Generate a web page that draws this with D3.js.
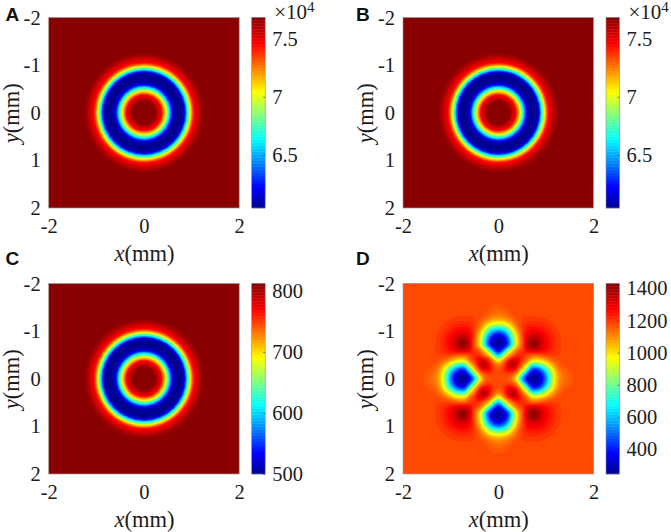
<!DOCTYPE html>
<html>
<head>
<meta charset="utf-8">
<script src="https://d3js.org/d3.v7.min.js"></script>
<style>
  html, body { margin: 0; padding: 0; background: #fff; }
  svg { display: block; }
  text { font-family: "Liberation Serif", serif; fill: #1c1c1c; }
  .domain { display: none; }
</style>
</head>
<body>
<div id="chart"></div>
<script>
// Data
const xTicks = [-2, 0, 2];
const yTicks = [-2, -1, 0, 1, 2];
const panelNames = ["A", "B", "C", "D"];

// Ring panels: field value against distance from the centre (mm)
const ringRadius = [0.22, 0.24, 0.26, 0.28, 0.30, 0.32, 0.34, 0.36, 0.38, 0.40, 0.42, 0.44, 0.46,
  0.48, 0.50, 0.52, 0.54, 0.56, 0.58, 0.60, 0.62, 0.64, 0.66, 0.68, 0.70, 0.72, 0.74, 0.76,
  0.78, 0.80, 0.82, 0.84, 0.86, 0.88, 0.90, 0.92, 0.94, 0.96, 0.98, 1.00, 1.02, 1.04, 1.06,
  1.08, 1.10, 1.12, 1.14, 1.16, 1.18, 1.20, 1.22, 1.24, 1.26, 1.28, 1.30];
const ringValuesAB = [7.685, 7.677, 7.660, 7.627, 7.586, 7.553, 7.520, 7.496, 7.463, 7.389, 7.257, 7.175, 7.085,
  6.978, 6.863, 6.731, 6.616, 6.501, 6.336, 6.237, 6.155, 6.106, 6.081, 6.060, 6.048, 6.043, 6.040, 6.040,
  6.043, 6.053, 6.073, 6.106, 6.165, 6.303, 6.468, 6.632, 6.764, 6.895, 7.027, 7.142, 7.257, 7.356, 7.438,
  7.471, 7.496, 7.520, 7.545, 7.570, 7.595, 7.619, 7.639, 7.657, 7.672, 7.680, 7.685];
const ringValuesC = [812, 810, 807, 801, 793, 787, 781, 776, 770, 756, 731, 715, 698,
  678, 656, 631, 609, 587, 556, 537, 522, 512, 508, 504, 502, 501, 500, 500,
  501, 502, 506, 512, 524, 550, 581, 612, 637, 662, 687, 709, 731, 750, 765,
  771, 776, 781, 785, 790, 795, 800, 803, 807, 810, 811, 812];

// Panel D: one quadrant, rows y = 0..1.8, columns x = 0..1.8, 0.1 mm apart
const quadrantD = [
  [1180, 1180, 1160, 1130,  870,  520,  290,  235,  245,  310,  500,  780, 1020, 1110, 1140, 1160, 1178, 1180, 1180],
  [1180, 1185, 1195, 1160, 1110,  780,  460,  275,  285,  360,  550,  820, 1030, 1120, 1145, 1160, 1178, 1180, 1180],
  [1160, 1195, 1290, 1300, 1200, 1060,  800,  400,  410,  520,  710,  900, 1070, 1140, 1165, 1175, 1180, 1180, 1180],
  [1130, 1160, 1300, 1440, 1300, 1130, 1050,  720,  730,  810,  920, 1050, 1120, 1165, 1178, 1180, 1180, 1180, 1180],
  [ 870, 1110, 1200, 1300, 1320, 1210, 1170, 1040, 1030, 1040, 1100, 1150, 1170, 1178, 1180, 1180, 1180, 1180, 1180],
  [ 520,  780, 1060, 1130, 1210, 1230, 1180, 1150, 1150, 1180, 1190, 1200, 1190, 1190, 1180, 1180, 1180, 1180, 1180],
  [ 290,  460,  800, 1050, 1170, 1180, 1300, 1330, 1330, 1300, 1260, 1230, 1210, 1190, 1182, 1180, 1180, 1180, 1180],
  [ 235,  275,  400,  720, 1040, 1150, 1330, 1430, 1420, 1330, 1280, 1240, 1210, 1190, 1182, 1180, 1180, 1180, 1180],
  [ 245,  285,  410,  730, 1030, 1150, 1330, 1420, 1410, 1330, 1280, 1240, 1210, 1190, 1182, 1180, 1180, 1180, 1180],
  [ 310,  360,  520,  810, 1040, 1180, 1300, 1330, 1330, 1300, 1265, 1230, 1205, 1188, 1180, 1180, 1180, 1180, 1180],
  [ 500,  550,  710,  920, 1100, 1190, 1260, 1280, 1280, 1265, 1240, 1218, 1197, 1185, 1180, 1180, 1180, 1180, 1180],
  [ 780,  820,  900, 1050, 1150, 1200, 1230, 1240, 1240, 1230, 1218, 1200, 1188, 1180, 1180, 1180, 1180, 1180, 1180],
  [1020, 1030, 1070, 1120, 1170, 1190, 1210, 1210, 1210, 1205, 1197, 1188, 1182, 1180, 1180, 1180, 1180, 1180, 1180],
  [1110, 1120, 1140, 1165, 1178, 1190, 1190, 1190, 1190, 1188, 1185, 1180, 1180, 1180, 1180, 1180, 1180, 1180, 1180],
  [1140, 1145, 1165, 1178, 1180, 1180, 1182, 1182, 1182, 1180, 1180, 1180, 1180, 1180, 1180, 1180, 1180, 1180, 1180],
  [1160, 1160, 1175, 1180, 1180, 1180, 1180, 1180, 1180, 1180, 1180, 1180, 1180, 1180, 1180, 1180, 1180, 1180, 1180],
  [1178, 1178, 1180, 1180, 1180, 1180, 1180, 1180, 1180, 1180, 1180, 1180, 1180, 1180, 1180, 1180, 1180, 1180, 1180],
  [1180, 1180, 1180, 1180, 1180, 1180, 1180, 1180, 1180, 1180, 1180, 1180, 1180, 1180, 1180, 1180, 1180, 1180, 1180],
  [1180, 1180, 1180, 1180, 1180, 1180, 1180, 1180, 1180, 1180, 1180, 1180, 1180, 1180, 1180, 1180, 1180, 1180, 1180]
];
const outsideD = 1180;

const domainAB = [6.04, 7.685];
const domainC = [500, 812];
const domainD = [245, 1430];
const cbTicksAB = [6.5, 7, 7.5];
const cbTicksC = [500, 600, 700, 800];
const cbTicksD = [400, 600, 800, 1000, 1200, 1400];

// jet colormap
const jetAt = [0, 0.11, 0.36, 0.61, 0.86, 1];
const jetColors = ["#00008f", "#0000ff", "#00ffff", "#ffff00", "#ff0000", "#880000"];

const width = 671, height = 532;
const plotSize = 190.5;

const svg = d3.select("#chart").append("svg")
  .attr("width", width)
  .attr("height", height)
  .attr("viewBox", [0, 0, width, height]);

const defs = svg.append("defs");
defs.append("filter").attr("id", "soft").append("feGaussianBlur").attr("stdDeviation", 0.7);

function jetScale(domain) {
  const t = d3.scaleLinear().domain(domain).range([0, 1]);
  const c = d3.scaleLinear().domain(jetAt).range(jetColors).interpolate(d3.interpolateRgb).clamp(true);
  return v => c(t(v));
}

function drawAxes(g, x, y) {
  const xAxis = g.append("g").attr("transform", `translate(0,${plotSize})`)
    .call(d3.axisBottom(x).tickValues(xTicks).tickSize(0).tickPadding(10).tickFormat(d => String(d)));
  const yAxis = g.append("g")
    .call(d3.axisLeft(y).tickValues(yTicks).tickSize(0).tickPadding(8).tickFormat(d => String(d)));
  xAxis.selectAll("text").style("font-size", "20.5px").style("font-family", "'Liberation Serif'");
  yAxis.selectAll("text").style("font-size", "20.5px").style("font-family", "'Liberation Serif'");

  const xl = g.append("text").attr("x", plotSize / 2 + 0.5).attr("y", plotSize + 53)
    .attr("text-anchor", "middle").style("font-size", "22.5px");
  xl.append("tspan").style("font-style", "italic").text("x");
  xl.append("tspan").text("(mm)");

  const yl = g.append("text").attr("transform", `translate(-30,${plotSize / 2 + 0.5}) rotate(-90)`)
    .attr("text-anchor", "middle").style("font-size", "22.5px");
  yl.append("tspan").style("font-style", "italic").text("y");
  yl.append("tspan").text("(mm)");
}

function drawColorbar(g, color, domain, ticks, withExponent) {
  const cb = g.append("g").attr("transform", `translate(${plotSize + 12.5},0)`);
  const barW = 13.5;
  const c = d3.scaleLinear().domain(domain).range([plotSize, 0]);
  const steps = d3.range(64).map(i => domain[0] + (i + 0.5) * (domain[1] - domain[0]) / 64);
  const stepH = plotSize / 64;
  cb.selectAll("rect.step").data(steps).join("rect")
    .attr("class", "step")
    .attr("x", 0)
    .attr("width", barW)
    .attr("y", d => c(d) - stepH / 2 - 0.2)
    .attr("height", stepH + 0.4)
    .attr("fill", d => color(d));
  cb.append("rect").attr("width", barW).attr("height", plotSize)
    .attr("fill", "none").attr("stroke", "#8a8f98").attr("stroke-width", 0.6);
  const axis = cb.append("g").attr("transform", `translate(${barW},0)`)
    .call(d3.axisRight(c).tickValues(ticks).tickSizeInner(-2).tickSizeOuter(0).tickPadding(7).tickFormat(d => String(d)));
  axis.selectAll("text").style("font-size", "20.5px").style("font-family", "'Liberation Serif'");
  axis.selectAll("line").attr("stroke", "#333").attr("stroke-width", 0.6);
  if (withExponent) {
    const t = cb.append("text").attr("x", 22.5).attr("y", 1).style("font-size", "21px");
    t.append("tspan").text("×10");
    t.append("tspan").attr("dy", -7).style("font-size", "15px").text("4");
  }
}

function drawRings(left, top, name, values, domain, ticks, withExponent) {
  const g = svg.append("g").attr("transform", `translate(${left},${top})`);
  const x = d3.scaleLinear().domain([-2, 2]).range([0, plotSize]);
  const y = d3.scaleLinear().domain([-2, 2]).range([0, plotSize]);
  const color = jetScale(domain);
  const clipId = "clip" + name;
  defs.append("clipPath").attr("id", clipId).append("rect").attr("width", plotSize).attr("height", plotSize);

  g.append("rect").attr("width", plotSize).attr("height", plotSize).attr("fill", color(domain[1]));
  const rings = ringRadius.map((r, i) => ({ r: r, v: values[i] })).reverse();
  g.append("g").attr("clip-path", `url(#${clipId})`).append("g").attr("filter", "url(#soft)")
    .selectAll("circle").data(rings).join("circle")
    .attr("cx", x(0))
    .attr("cy", y(0))
    .attr("r", d => x(d.r) - x(0))
    .attr("fill", d => color(d.v));
  g.append("rect").attr("width", plotSize).attr("height", plotSize)
    .attr("fill", "none").attr("stroke", "#9a9a9a").attr("stroke-width", 0.7);

  drawAxes(g, x, y);
  drawColorbar(g, color, domain, ticks, withExponent);
}

function drawPetals(left, top, name) {
  const g = svg.append("g").attr("transform", `translate(${left},${top})`);
  const x = d3.scaleLinear().domain([-2, 2]).range([0, plotSize]);
  const y = d3.scaleLinear().domain([-2, 2]).range([0, plotSize]);
  const color = jetScale(domainD);
  const clipId = "clip" + name;
  defs.append("clipPath").attr("id", clipId).append("rect").attr("width", plotSize).attr("height", plotSize);

  // mirror the quadrant over the whole grid, then shade it finer so contours come out round
  const mid = 20, fine = 4, n = 40 * fine + 1;
  const at = (i, j) => {
    const row = quadrantD[Math.abs(j - mid)];
    const v = row ? row[Math.abs(i - mid)] : undefined;
    return v === undefined ? outsideD : v;
  };
  const grid = new Array(n * n);
  for (let j = 0; j < n; j++) {
    for (let i = 0; i < n; i++) {
      const i0 = Math.min(Math.floor(i / fine), 39), j0 = Math.min(Math.floor(j / fine), 39);
      const u = i / fine - i0, w = j / fine - j0;
      grid[j * n + i] = (1 - u) * (1 - w) * at(i0, j0) + u * (1 - w) * at(i0 + 1, j0)
        + (1 - u) * w * at(i0, j0 + 1) + u * w * at(i0 + 1, j0 + 1);
    }
  }
  d3.blur2({ data: grid, width: n }, 1);

  const levels = d3.range(64).map(i => domainD[0] + i * (domainD[1] - domainD[0]) / 64);
  const contours = d3.contours().size([n, n]).thresholds(levels)(grid);
  const path = d3.geoPath(d3.geoTransform({
    point(px, py) {
      this.stream.point(x(-2 + (px - 0.5) * 0.1 / fine), y(-2 + (py - 0.5) * 0.1 / fine));
    }
  }));

  g.append("rect").attr("width", plotSize).attr("height", plotSize).attr("fill", color(outsideD));
  g.append("g").attr("clip-path", `url(#${clipId})`).append("g")
    .selectAll("path").data(contours).join("path")
    .attr("d", path)
    .attr("fill", d => color(d.value + (domainD[1] - domainD[0]) / 128));
  g.append("rect").attr("width", plotSize).attr("height", plotSize)
    .attr("fill", "none").attr("stroke", "#8fa6c0").attr("stroke-width", 0.7);

  drawAxes(g, x, y);
  drawColorbar(g, color, domainD, cbTicksD, false);
}

drawRings(48.7, 17.5, "A", ringValuesAB, domainAB, cbTicksAB, true);
drawRings(403, 17.5, "B", ringValuesAB, domainAB, cbTicksAB, true);
drawRings(48.7, 283.5, "C", ringValuesC, domainC, cbTicksC, false);
drawPetals(403, 283.5, "D");

// Panel letters
svg.selectAll("text.letter").data(panelNames).join("text")
  .attr("class", "letter")
  .attr("x", (d, i) => i % 2 ? 356 : 5.5)
  .attr("y", (d, i) => i < 2 ? 21 : 265)
  .style("font-family", "'Liberation Sans'")
  .style("font-weight", "bold")
  .style("font-size", "19px")
  .style("fill", "#111")
  .text(d => d);
</script>
</body>
</html>
